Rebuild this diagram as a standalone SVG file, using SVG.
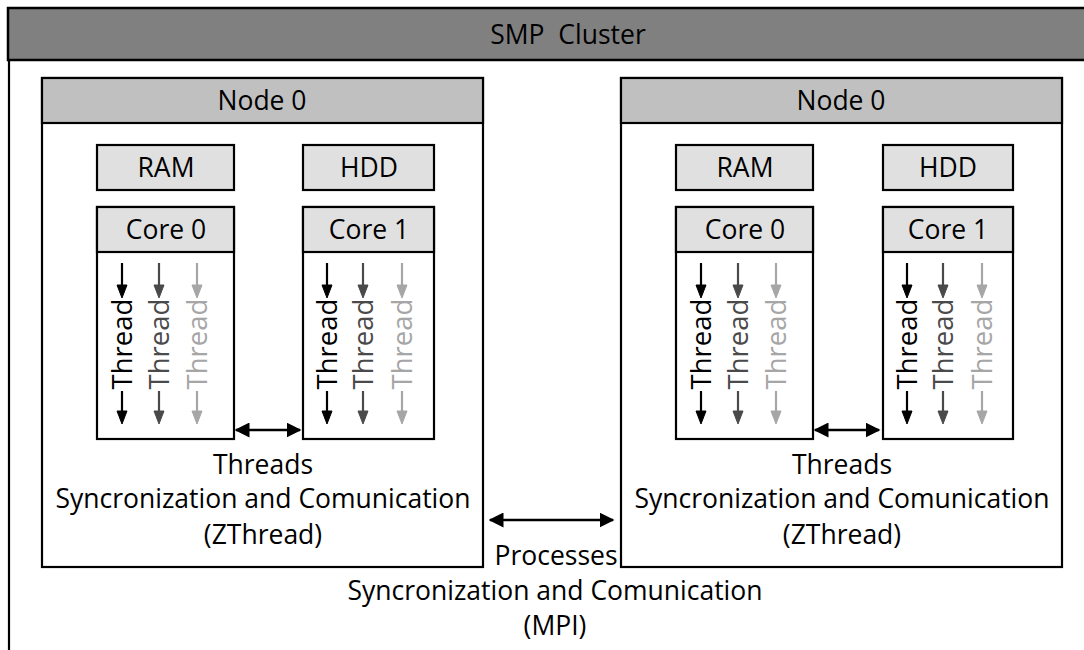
<svg xmlns="http://www.w3.org/2000/svg" width="1084" height="650" viewBox="0 0 1084 650">
<defs>
<style>
.t{font-family:"Open Sans","Liberation Sans",sans-serif;font-size:26.5px;fill:#000;text-anchor:middle}
.box{stroke:#000;stroke-width:2.2;fill:#fff}
.hdr{stroke:#000;stroke-width:2.2;fill:#c0c0c0}
.lt{stroke:#000;stroke-width:2.2;fill:#e0e0e0}
.th{font-family:"Open Sans","Liberation Sans",sans-serif;font-size:27.5px;text-anchor:middle}
.c1{stroke:#000;fill:#000}
.c2{stroke:#4a4a4a;fill:#4a4a4a}
.c3{stroke:#a6a6a6;fill:#a6a6a6}
.ln{stroke-width:2.2;fill:none}
.conn{stroke:#000;stroke-width:2.5;fill:none}
</style>
<marker id="ah" viewBox="0 0 10 10" refX="9" refY="5" markerWidth="6" markerHeight="6" orient="auto-start-reverse" markerUnits="strokeWidth">
<path d="M0,0 L10,5 L0,10 Z" fill="#000"/>
</marker>
<path id="adown" d="M-5,-13 L5,-13 L0,0 Z"/>
</defs>
<rect width="1084" height="650" fill="#fff"/>

<g id="cluster">
<line x1="9" y1="60" x2="9" y2="652" stroke="#000" stroke-width="2.2"/>
<rect x="8" y="8" width="1090" height="52" fill="#808080" stroke="#000" stroke-width="2.5"/>
<text class="t" x="568" y="44" xml:space="preserve">SMP  Cluster</text>
</g>

<g id="node-left">
<rect class="box" x="42" y="78" width="441" height="489"/>
<rect class="hdr" x="42" y="78" width="441" height="45"/>
<text class="t" x="262" y="110">Node 0</text>
<rect class="lt" x="97" y="145" width="137" height="45"/>
<text class="t" x="166" y="177">RAM</text>
<rect class="lt" x="303" y="145" width="131" height="45"/>
<text class="t" x="369" y="177">HDD</text>
<g id="core-l0">
<rect class="box" x="97" y="207" width="137" height="232"/>
<rect class="lt" x="97" y="207" width="137" height="45"/>
<text class="t" x="166" y="239">Core 0</text>
<g class="c1"><line class="ln" x1="122" y1="263" x2="122" y2="288"/><use href="#adown" x="122" y="298"/><line class="ln" x1="122" y1="391" x2="122" y2="414"/><use href="#adown" x="122" y="424"/><text class="th" stroke="none" transform="translate(132,344) rotate(-90)">Thread</text></g>
<g class="c2"><line class="ln" x1="159" y1="263" x2="159" y2="288"/><use href="#adown" x="159" y="298"/><line class="ln" x1="159" y1="391" x2="159" y2="414"/><use href="#adown" x="159" y="424"/><text class="th" stroke="none" transform="translate(169,344) rotate(-90)">Thread</text></g>
<g class="c3"><line class="ln" x1="197" y1="263" x2="197" y2="288"/><use href="#adown" x="197" y="298"/><line class="ln" x1="197" y1="391" x2="197" y2="414"/><use href="#adown" x="197" y="424"/><text class="th" stroke="none" transform="translate(207,344) rotate(-90)">Thread</text></g>
</g>
<g id="core-l1">
<rect class="box" x="303" y="207" width="131" height="232"/>
<rect class="lt" x="303" y="207" width="131" height="45"/>
<text class="t" x="369" y="239">Core 1</text>
<g class="c1"><line class="ln" x1="327" y1="263" x2="327" y2="288"/><use href="#adown" x="327" y="298"/><line class="ln" x1="327" y1="391" x2="327" y2="414"/><use href="#adown" x="327" y="424"/><text class="th" stroke="none" transform="translate(337,344) rotate(-90)">Thread</text></g>
<g class="c2"><line class="ln" x1="363" y1="263" x2="363" y2="288"/><use href="#adown" x="363" y="298"/><line class="ln" x1="363" y1="391" x2="363" y2="414"/><use href="#adown" x="363" y="424"/><text class="th" stroke="none" transform="translate(373,344) rotate(-90)">Thread</text></g>
<g class="c3"><line class="ln" x1="402" y1="263" x2="402" y2="288"/><use href="#adown" x="402" y="298"/><line class="ln" x1="402" y1="391" x2="402" y2="414"/><use href="#adown" x="402" y="424"/><text class="th" stroke="none" transform="translate(412,344) rotate(-90)">Thread</text></g>
</g>
<text class="t" x="263" y="474">Threads</text>
<text class="t" x="263" y="508">Syncronization and Comunication</text>
<text class="t" x="263" y="544">(ZThread)</text>
</g>

<g id="node-right">
<rect class="box" x="621" y="78" width="441" height="489"/>
<rect class="hdr" x="621" y="78" width="441" height="45"/>
<text class="t" x="841" y="110">Node 0</text>
<rect class="lt" x="676" y="145" width="137" height="45"/>
<text class="t" x="745" y="177">RAM</text>
<rect class="lt" x="883" y="145" width="130" height="45"/>
<text class="t" x="948" y="177">HDD</text>
<g id="core-r0">
<rect class="box" x="676" y="207" width="137" height="232"/>
<rect class="lt" x="676" y="207" width="137" height="45"/>
<text class="t" x="745" y="239">Core 0</text>
<g class="c1"><line class="ln" x1="701" y1="263" x2="701" y2="288"/><use href="#adown" x="701" y="298"/><line class="ln" x1="701" y1="391" x2="701" y2="414"/><use href="#adown" x="701" y="424"/><text class="th" stroke="none" transform="translate(711,344) rotate(-90)">Thread</text></g>
<g class="c2"><line class="ln" x1="738" y1="263" x2="738" y2="288"/><use href="#adown" x="738" y="298"/><line class="ln" x1="738" y1="391" x2="738" y2="414"/><use href="#adown" x="738" y="424"/><text class="th" stroke="none" transform="translate(748,344) rotate(-90)">Thread</text></g>
<g class="c3"><line class="ln" x1="776" y1="263" x2="776" y2="288"/><use href="#adown" x="776" y="298"/><line class="ln" x1="776" y1="391" x2="776" y2="414"/><use href="#adown" x="776" y="424"/><text class="th" stroke="none" transform="translate(786,344) rotate(-90)">Thread</text></g>
</g>
<g id="core-r1">
<rect class="box" x="883" y="207" width="130" height="232"/>
<rect class="lt" x="883" y="207" width="130" height="45"/>
<text class="t" x="948" y="239">Core 1</text>
<g class="c1"><line class="ln" x1="907" y1="263" x2="907" y2="288"/><use href="#adown" x="907" y="298"/><line class="ln" x1="907" y1="391" x2="907" y2="414"/><use href="#adown" x="907" y="424"/><text class="th" stroke="none" transform="translate(917,344) rotate(-90)">Thread</text></g>
<g class="c2"><line class="ln" x1="943" y1="263" x2="943" y2="288"/><use href="#adown" x="943" y="298"/><line class="ln" x1="943" y1="391" x2="943" y2="414"/><use href="#adown" x="943" y="424"/><text class="th" stroke="none" transform="translate(953,344) rotate(-90)">Thread</text></g>
<g class="c3"><line class="ln" x1="982" y1="263" x2="982" y2="288"/><use href="#adown" x="982" y="298"/><line class="ln" x1="982" y1="391" x2="982" y2="414"/><use href="#adown" x="982" y="424"/><text class="th" stroke="none" transform="translate(992,344) rotate(-90)">Thread</text></g>
</g>
<text class="t" x="842" y="474">Threads</text>
<text class="t" x="842" y="508">Syncronization and Comunication</text>
<text class="t" x="842" y="544">(ZThread)</text>
</g>

<g id="connectors">
<line class="conn" x1="236" y1="430" x2="300" y2="430" marker-start="url(#ah)" marker-end="url(#ah)"/>
<line class="conn" x1="815" y1="430" x2="879" y2="430" marker-start="url(#ah)" marker-end="url(#ah)"/>
<line class="conn" x1="490" y1="520" x2="613" y2="520" marker-start="url(#ah)" marker-end="url(#ah)"/>
</g>

<g id="mpi-label">
<text class="t" x="556" y="565">Processes</text>
<text class="t" x="555" y="600">Syncronization and Comunication</text>
<text class="t" x="555" y="635">(MPI)</text>
</g>
</svg>
